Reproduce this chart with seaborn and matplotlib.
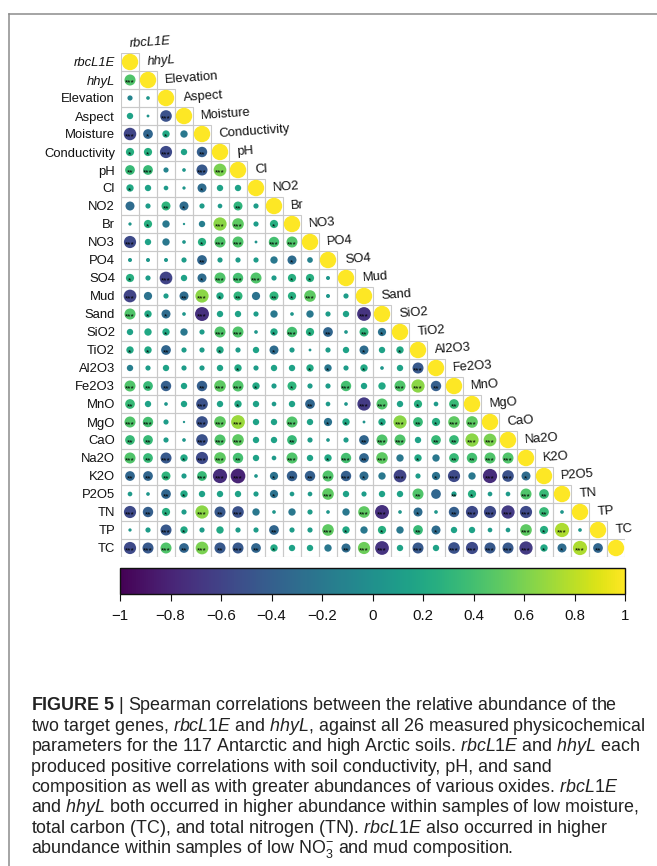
import numpy as np
import pandas as pd
import seaborn as sns
import matplotlib as mpl
import matplotlib.pyplot as plt
from matplotlib.patches import Rectangle
from matplotlib.lines import Line2D

plt.rcParams['font.family'] = ['Liberation Sans', 'DejaVu Sans']
plt.rcParams['mathtext.fontset'] = 'custom'
plt.rcParams['mathtext.rm'] = 'Liberation Sans'
plt.rcParams['mathtext.it'] = 'Liberation Sans:italic'
plt.rcParams['mathtext.bf'] = 'Liberation Sans:bold'

# variable order (rows top->bottom, columns left->right)
variables = ["rbcL1E", "hhyL", "Elevation", "Aspect", "Moisture", "Conductivity",
             "pH", "Cl", "NO2", "Br", "NO3", "PO4", "SO4", "Mud", "Sand", "SiO2",
             "TiO2", "Al2O3", "Fe2O3", "MnO", "MgO", "CaO", "Na2O", "K2O", "P2O5",
             "TN", "TP", "TC"]
italic_vars = ["rbcL1E", "hhyL"]

# Spearman rho, lower triangle: each list holds the correlations with the
# preceding variables (in the order above)
r_rbcL1E = []
r_hhyL = [0.45]
r_Elevation = [-0.1, 0.05]
r_Aspect = [0.15, 0.03, -0.5]
r_Moisture = [-0.58, -0.35, 0.2, -0.2]
r_Conductivity = [0.25, 0.25, -0.55, 0.15, -0.4]
r_pH = [0.35, 0.35, -0.1, 0.05, -0.45, 0.6]
r_Cl = [0.2, 0.15, 0.08, 0.04, -0.3, 0.15, 0.15]
r_NO2 = [-0.3, 0.1, 0.3, -0.3, 0.1, 0.08, 0.3, 0.1]
r_Br = [0.04, 0.25, -0.2, 0.02, -0.15, 0.65, 0.5, 0.1, 0.25]
r_NO3 = [-0.55, 0.15, -0.2, 0.05, 0.25, 0.45, 0.45, 0.03, 0.4, 0.45]
r_PO4 = [0.06, 0.06, 0.06, 0.1, -0.35, 0.1, 0.1, 0.1, -0.2, -0.3, -0.12]
r_SO4 = [0.25, 0.1, -0.6, 0.15, -0.3, 0.45, 0.4, 0.45, 0.1, 0.25, 0.25, 0.06]
r_Mud = [-0.6, -0.25, 0.1, -0.3, 0.65, 0.2, 0.3, -0.25, 0.3, 0.25, 0.5, 0.06, 0.1]
r_Sand = [0.45, 0.2, -0.3, 0.05, -0.72, 0.15, 0.15, 0.1, -0.2, 0.05, -0.2, 0.1,
          0.15, -0.7]
r_SiO2 = [0.15, 0.2, 0.2, -0.2, 0.1, 0.45, 0.45, 0.05, 0.2, 0.4, 0.25, -0.35,
          0.05, 0.3, -0.25]
r_TiO2 = [0.2, 0.2, -0.35, 0.1, 0.1, 0.2, 0.1, 0.15, -0.3, 0.1, 0.03, 0.1, 0.15,
          -0.3, 0.15, 0.2]
r_Al2O3 = [-0.15, 0.1, 0.15, 0.1, 0.1, 0.15, 0.2, 0.1, 0.15, 0.15, 0.2, -0.2,
           0.1, 0.2, 0.05, 0.15, -0.45]
r_Fe2O3 = [0.45, 0.35, -0.4, 0.15, -0.4, 0.5, 0.45, 0.2, 0.1, 0.3, 0.1, 0.1,
           0.4, 0.15, 0.2, 0.45, 0.65, -0.4]
r_MnO = [0.35, 0.15, 0.05, 0.15, -0.5, 0.15, 0.2, 0.15, 0.08, 0.15, -0.35, 0.08,
         0.05, -0.65, 0.45, 0.15, 0.25, 0.08, 0.35]
r_MgO = [0.45, 0.4, 0.1, 0.02, -0.5, 0.5, 0.7, 0.15, 0.15, 0.45, 0.15, -0.25,
         0.2, 0.03, 0.2, 0.65, 0.35, 0.25, 0.5, 0.5]
r_CaO = [0.35, 0.35, 0.1, 0.05, -0.5, 0.45, 0.5, 0.15, 0.15, 0.35, 0.1, 0.05,
         0.1, -0.35, 0.45, 0.45, 0.15, 0.35, 0.35, 0.65, 0.6]
r_Na2O = [0.45, 0.35, -0.45, 0.2, -0.55, 0.5, 0.4, 0.15, 0.08, 0.45, 0.15, 0.2,
          0.4, -0.35, 0.5, -0.2, 0.2, -0.2, 0.35, 0.4, 0.45, 0.45]
r_K2O = [-0.35, -0.35, 0.3, 0.1, 0.35, -0.75, -0.8, 0.05, -0.25, -0.4, -0.4,
         0.45, -0.4, -0.3, -0.2, -0.6, 0.1, -0.25, -0.55, -0.2, -0.75, -0.5, -0.3]
r_P2O5 = [0.08, 0.05, -0.35, 0.2, 0.15, 0.15, 0.15, 0.1, -0.25, 0.08, 0.08, 0.5,
          0.15, 0.1, 0.15, 0.15, 0.45, -0.35, 0.1, 0.25, 0.08, 0.08, 0.45, 0.35]
r_TN = [-0.55, -0.4, 0.25, 0.1, 0.65, -0.45, -0.5, -0.2, 0.05, -0.2, 0.1, 0.05,
        -0.2, 0.5, -0.72, 0.05, -0.3, 0.05, -0.4, -0.55, -0.55, -0.65, -0.55,
        0.35, 0.05]
r_TP = [0.04, 0.1, -0.45, 0.2, 0.1, 0.2, 0.1, 0.1, -0.35, 0.1, 0.1, 0.5, 0.2,
        -0.2, 0.25, -0.2, 0.35, -0.3, 0.15, 0.15, 0.08, 0.08, 0.5, 0.25, 0.75,
        0.05]
r_TC = [-0.55, -0.45, 0.45, -0.35, 0.6, -0.45, -0.45, -0.35, 0.2, 0.15, 0.15,
        -0.2, -0.3, 0.55, -0.7, 0.15, -0.45, 0.15, -0.5, -0.55, -0.45, -0.45,
        -0.65, 0.2, -0.3, 0.75, -0.35]

# significance level per cell (number of asterisks), same layout
sig_rbcL1E = ""
sig_hhyL = "3"
sig_Elevation = "00"
sig_Aspect = "003"
sig_Moisture = "3110"
sig_Conductivity = "11302"
sig_pH = "230033"
sig_Cl = "1000100"
sig_NO2 = "00210020"
sig_Br = "010003301"
sig_NO3 = "3000133033"
sig_PO4 = "00002000010"
sig_SO4 = "103013330110"
sig_Mud = "3002312021300"
sig_Sand = "31103000000003"
sig_SiO2 = "001003301312021"
sig_TiO2 = "1120010010000101"
sig_Al2O3 = "00000010001101003"
sig_Fe2O3 = "322023310100300332"
sig_MnO = "2000301000200330102"
sig_MgO = "33003330030110132133"
sig_CaO = "220033300200023302233"
sig_Na2O = "3231332003013230102233"
sig_K2O = "22203330122331030130331"
sig_P2O5 = "002100001003000020210032"
sig_TN = "3210323000000330102333320"
sig_TP = "00310000200310102100003130"
sig_TC = "333232321000233030333331132"

corr = {"rbcL1E": r_rbcL1E, "hhyL": r_hhyL, "Elevation": r_Elevation,
        "Aspect": r_Aspect, "Moisture": r_Moisture,
        "Conductivity": r_Conductivity, "pH": r_pH, "Cl": r_Cl, "NO2": r_NO2,
        "Br": r_Br, "NO3": r_NO3, "PO4": r_PO4, "SO4": r_SO4, "Mud": r_Mud,
        "Sand": r_Sand, "SiO2": r_SiO2, "TiO2": r_TiO2, "Al2O3": r_Al2O3,
        "Fe2O3": r_Fe2O3, "MnO": r_MnO, "MgO": r_MgO, "CaO": r_CaO,
        "Na2O": r_Na2O, "K2O": r_K2O, "P2O5": r_P2O5, "TN": r_TN, "TP": r_TP,
        "TC": r_TC}
sig = {"rbcL1E": sig_rbcL1E, "hhyL": sig_hhyL, "Elevation": sig_Elevation,
       "Aspect": sig_Aspect, "Moisture": sig_Moisture,
       "Conductivity": sig_Conductivity, "pH": sig_pH, "Cl": sig_Cl,
       "NO2": sig_NO2, "Br": sig_Br, "NO3": sig_NO3, "PO4": sig_PO4,
       "SO4": sig_SO4, "Mud": sig_Mud, "Sand": sig_Sand, "SiO2": sig_SiO2,
       "TiO2": sig_TiO2, "Al2O3": sig_Al2O3, "Fe2O3": sig_Fe2O3,
       "MnO": sig_MnO, "MgO": sig_MgO, "CaO": sig_CaO, "Na2O": sig_Na2O,
       "K2O": sig_K2O, "P2O5": sig_P2O5, "TN": sig_TN, "TP": sig_TP,
       "TC": sig_TC}

cbar_ticks = [-1, -0.8, -0.6, -0.4, -0.2, 0, 0.2, 0.4, 0.6, 0.8, 1]
cbar_labels = ["\u22121", "\u22120.8", "\u22120.6", "\u22120.4", "\u22120.2", "0",
               "0.2", "0.4", "0.6", "0.8", "1"]

caption_lines = [
    r"$\mathbf{FIGURE\ 5}$ | Spearman correlations between the relative abundance of the",
    r"two target genes, $\mathit{rbcL1E}$ and $\mathit{hhyL}$, against all 26 measured physicochemical",
    r"parameters for the 117 Antarctic and high Arctic soils. $\mathit{rbcL1E}$ and $\mathit{hhyL}$ each",
    "produced positive correlations with soil conductivity, pH, and sand",
    r"composition as well as with greater abundances of various oxides. $\mathit{rbcL1E}$",
    r"and $\mathit{hhyL}$ both occurred in higher abundance within samples of low moisture,",
    r"total carbon (TC), and total nitrogen (TN). $\mathit{rbcL1E}$ also occurred in higher",
    r"abundance within samples of low N$\mathrm{O}_3^{-}$ and mud composition.",
]

# long-form table of lower-triangle cells, diagonal included
records = []
for i, name in enumerate(variables):
    vals = list(corr[name]) + [1.0]
    stars = sig[name] + "0"
    for j, v in enumerate(vals):
        records.append({"row": name, "col": variables[j], "xi": j, "yi": i,
                        "r": v, "absr": abs(v), "stars": int(stars[j])})
df = pd.DataFrame(records)

W, H = 657, 866
fig = plt.figure(figsize=(W / 100, H / 100), dpi=100)
fig.patch.set_facecolor("white")

n = len(variables)
ax = fig.add_axes([121 / W, 1 - 557 / H, 504 / W, 504 / H])

# cell grid
for _, c in df.iterrows():
    ax.add_patch(Rectangle((c.xi - 0.5, c.yi - 0.5), 1, 1, fill=False,
                           ec="#c9c9c9", lw=0.8, zorder=1))

sns.scatterplot(data=df, x="xi", y="yi", hue="r", hue_norm=(-1, 1),
                palette="viridis", size="absr", size_norm=(0, 1),
                sizes=(0, 140), linewidth=0, legend=False, ax=ax, zorder=3)

for _, c in df[df.stars > 0].iterrows():
    ax.text(c.xi, c.yi + 0.26, "*" * int(c.stars), ha="center", va="baseline",
            fontsize=6, color="black", zorder=4)

ax.set_xlim(-0.5, n - 0.5)
ax.set_ylim(n - 0.5, -0.5)
ax.set_xticks([])
ax.set_yticks(range(n))
ax.set_yticklabels(variables, fontsize=9.4, color="#111111")
for lbl in ax.get_yticklabels():
    if lbl.get_text() in italic_vars:
        lbl.set_style("italic")
ax.tick_params(axis="y", length=0, pad=4.3)
ax.set_xlabel("")
ax.set_ylabel("")
for s in ax.spines.values():
    s.set_visible(False)

# column labels along the diagonal
for j, name in enumerate(variables):
    ax.text(j - 0.05, j - 1, name, ha="left", va="center", rotation=4,
            rotation_mode="anchor", fontsize=9.4, color="#111111",
            style="italic" if name in italic_vars else "normal")

# colour key
cax = fig.add_axes([120 / W, 1 - 594 / H, 505 / W, 26 / H])
sm = mpl.cm.ScalarMappable(norm=mpl.colors.Normalize(-1, 1), cmap="viridis")
cb = fig.colorbar(sm, cax=cax, orientation="horizontal")
cb.set_ticks(cbar_ticks)
cb.set_ticklabels(cbar_labels)
cax.tick_params(axis="x", length=5, width=0.8, labelsize=10.8, pad=6,
                colors="#111111")
cb.outline.set_linewidth(1.0)
cb.outline.set_edgecolor("#111111")

# caption
renderer = fig.canvas.get_renderer()
probe = fig.text(0, 0, caption_lines[1], fontsize=10)
w10 = probe.get_window_extent(renderer).width
probe.remove()
cap_size = 10 * 614 / w10
y0, dy = 706, 20.4
for k, line in enumerate(caption_lines):
    fig.text(31 / W, 1 - (y0 + k * dy) / H, line, fontsize=cap_size,
             ha="left", va="center", color="#222222")

# frame
fig.add_artist(Line2D([9 / W, 1], [1 - 14 / H, 1 - 14 / H],
                      transform=fig.transFigure, color="#8c8c8c", lw=1.1))
fig.add_artist(Line2D([9 / W, 9 / W], [0, 1 - 14 / H],
                      transform=fig.transFigure, color="#8c8c8c", lw=1.1))

fig.savefig("out.png", dpi=100)
